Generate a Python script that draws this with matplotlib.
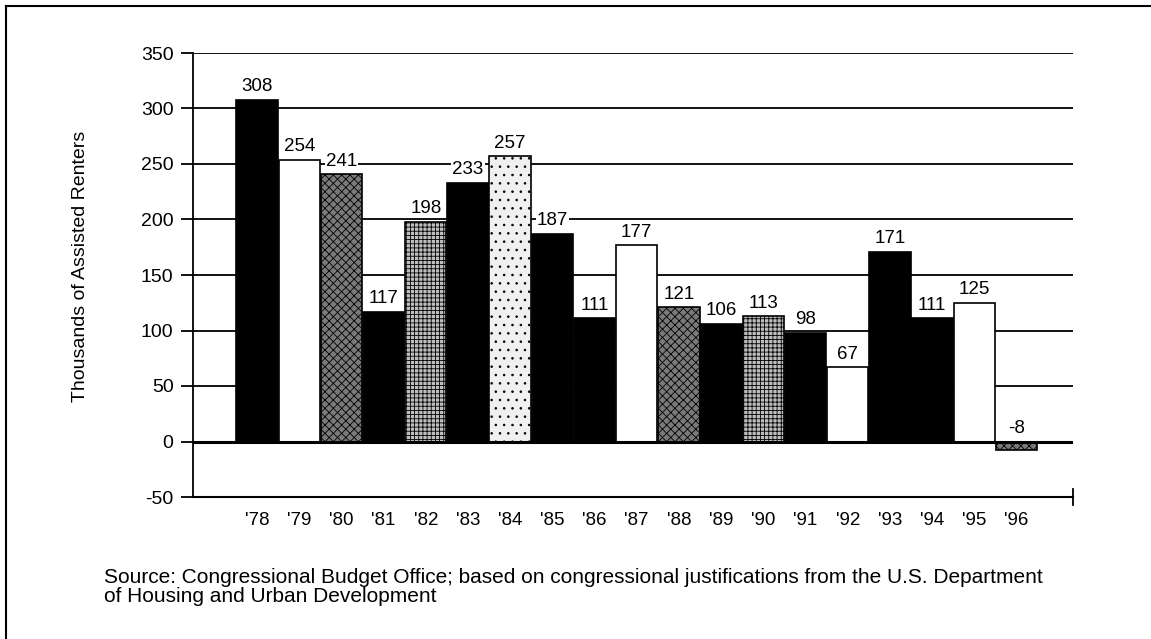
import matplotlib
matplotlib.use("Agg")
from matplotlib import pyplot as plt
from matplotlib.lines import Line2D

"""
Net change in assisted renters per year, bar chart in the CBO report style.
"""

years = ["'78", "'79", "'80", "'81", "'82", "'83", "'84", "'85", "'86", "'87",
         "'88", "'89", "'90", "'91", "'92", "'93", "'94", "'95", "'96"]
renters = [308, 254, 241, 117, 198, 233, 257, 187, 111, 177,
           121, 106, 113, 98, 67, 171, 111, 125, -8]
# fill style per bar: black, white, dark stipple, light grid stipple, pale dots
fills = ["black", "white", "dark", "black", "grid", "black", "pale", "black", "black", "white",
         "dark", "black", "grid", "black", "white", "black", "black", "white", "dark"]
y_ticks = [-50, 0, 50, 100, 150, 200, 250, 300, 350]
source_text = ("Source: Congressional Budget Office; based on congressional justifications from the U.S. Department\n"
               "of Housing and Urban Development")

styles = {
    "black": dict(facecolor="black", hatch=None),
    "white": dict(facecolor="white", hatch=None),
    "dark": dict(facecolor="#7a7a7a", hatch="xxxx"),
    "grid": dict(facecolor="#bdbdbd", hatch="++++"),
    "pale": dict(facecolor="#f0f0f0", hatch=".."),
}

plt.rcParams["font.family"] = ["Liberation Sans", "DejaVu Sans"]
plt.rcParams["hatch.linewidth"] = 0.6
plt.rcParams["axes.unicode_minus"] = False

fig = plt.figure(figsize=(11.51, 6.39), dpi=100)
ax = fig.add_axes([193 / 1151, 1 - 497 / 639, 880 / 1151, 444 / 639])

x = list(range(len(years)))
for i, (val, fill) in enumerate(zip(renters, fills)):
    st = styles[fill]
    ax.bar(i, val, width=0.98, color=st["facecolor"], edgecolor="black", linewidth=1.2,
           hatch=st["hatch"], zorder=3)
    ax.text(i, max(val, 0) + 4, str(val), ha="center", va="bottom", fontsize=13.5, zorder=5,
            bbox=dict(facecolor="white", edgecolor="none", pad=0.8))

ax.set_xlim(-1.517, 19.34)
ax.set_ylim(-50, 350)
ax.set_yticks(y_ticks)
ax.set_xticks(x)
ax.set_xticklabels(years)
ax.tick_params(axis="x", length=0, labelsize=13.5, pad=11)
ax.tick_params(axis="y", direction="out", length=9, width=1.3, labelsize=14, pad=5)

for val in y_ticks[1:]:
    ax.axhline(val, color="black", linewidth=2.2 if val == 0 else 1.3, zorder=1 if val else 4)

for side in ["top", "right"]:
    ax.spines[side].set_visible(False)
ax.spines["left"].set_linewidth(1.3)
ax.spines["bottom"].set_linewidth(1.5)
ax.plot([1, 1], [-0.018, 0.018], color="black", linewidth=1.3,
        transform=ax.transAxes, clip_on=False)

ax.set_ylabel("Thousands of Assisted Renters", fontsize=14)
ax.yaxis.set_label_coords(-0.118, 0.52)

fig.text(104 / 1151, 1 - 587 / 639, source_text, ha="left", va="center", fontsize=15,
         linespacing=0.95)

# page frame, only top and left edges are in view
fig.add_artist(Line2D([6 / 1151, 1], [1 - 6 / 639, 1 - 6 / 639], color="black", linewidth=1.5))
fig.add_artist(Line2D([6 / 1151, 6 / 1151], [0, 1 - 6 / 639], color="black", linewidth=1.5))

fig.savefig("out.png", dpi=100)
